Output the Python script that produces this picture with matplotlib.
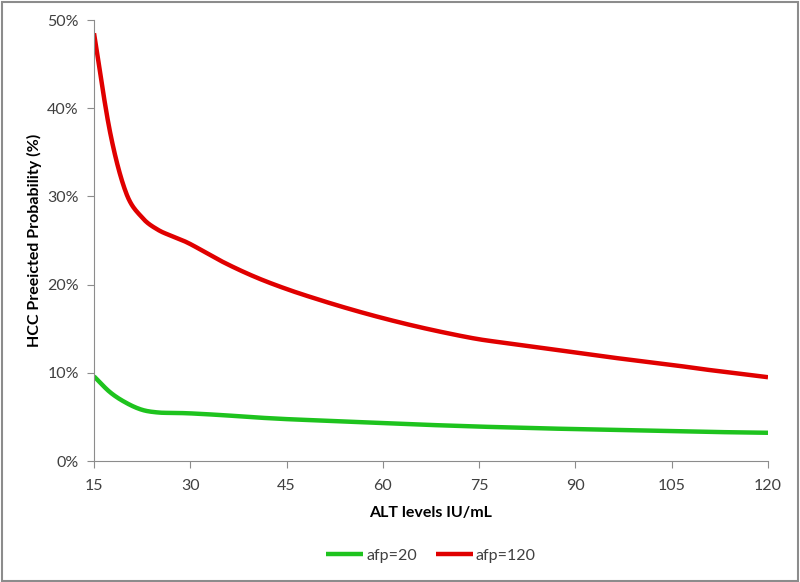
import numpy as np
import matplotlib.pyplot as plt
from matplotlib.ticker import PercentFormatter
from matplotlib.patches import Rectangle

alt = [15, 17.5, 20, 22.5, 25, 27.5, 30, 35, 40, 45, 50, 55, 60, 65, 70, 75, 80, 85, 90, 95, 100,
       105, 110, 115, 120]
afp20 = [9.6, 7.8, 6.6, 5.8, 5.5, 5.45, 5.4, 5.2, 4.95, 4.75, 4.6, 4.45, 4.3, 4.15, 4.02, 3.9, 3.8,
         3.7, 3.62, 3.54, 3.46, 3.38, 3.31, 3.25, 3.2]
afp120 = [48.5, 37.3, 30.4, 27.6, 26.2, 25.4, 24.6, 22.6, 20.9, 19.5, 18.3, 17.2, 16.2, 15.3, 14.5,
          13.8, 13.3, 12.8, 12.3, 11.8, 11.35, 10.9, 10.4, 9.95, 9.5]


def smooth(xs, ys, n=20):
    # catmull-rom through the points, like excel's smoothed line
    xs = np.asarray(xs, float)
    ys = np.asarray(ys, float)
    px = np.concatenate([[2*xs[0]-xs[1]], xs, [2*xs[-1]-xs[-2]]])
    py = np.concatenate([[2*ys[0]-ys[1]], ys, [2*ys[-1]-ys[-2]]])
    outx, outy = [], []
    t = np.linspace(0, 1, n, endpoint=False)
    for i in range(1, len(px)-2):
        for p, out in ((px, outx), (py, outy)):
            p0, p1, p2, p3 = p[i-1], p[i], p[i+1], p[i+2]
            out.extend(0.5*((2*p1) + (-p0+p2)*t + (2*p0-5*p1+4*p2-p3)*t**2 + (-p0+3*p1-3*p2+p3)*t**3))
    outx.append(xs[-1])
    outy.append(ys[-1])
    return np.array(outx), np.array(outy)


plt.rcParams['font.family'] = ['Lato', 'DejaVu Sans']
txt = '#404040'
grey = '#8c8c8c'

fig = plt.figure(figsize=(8, 5.82), dpi=100)
fig.patches.append(Rectangle((0.002, 0.002), 0.995, 0.995, transform=fig.transFigure,
                             fill=False, edgecolor='#8c8c8c', linewidth=1.5))
ax = fig.add_axes([0.1175, 0.2079, 0.8425, 0.7577])

sx, sy = smooth(alt, afp20)
ax.plot(sx, sy, color='#1ec31e', linewidth=3.2, label='afp=20', solid_capstyle='butt')
sx, sy = smooth(alt, afp120)
ax.plot(sx, sy, color='#e00000', linewidth=3.2, label='afp=120', solid_capstyle='butt')

ax.set_xlim(15, 120)
ax.set_ylim(0, 50)
ax.set_xticks(range(15, 121, 15))
ax.set_yticks(range(0, 51, 10))
ax.yaxis.set_major_formatter(PercentFormatter(decimals=0))
for s in ['top', 'right']:
    ax.spines[s].set_visible(False)
for s in ['left', 'bottom']:
    ax.spines[s].set_color(grey)
ax.tick_params(colors=grey, labelcolor=txt, labelsize=11.5, length=5, direction='out', pad=6)
ax.tick_params(axis='x', pad=8)

ax.set_xlabel('ALT levels IU/mL', fontsize=11.5, fontweight='bold', color='black', labelpad=9)
ax.set_ylabel('HCC Preeicted Probability (%)', fontsize=11.5, fontweight='bold', color='black', labelpad=4)

ax.legend(loc='center', bbox_to_anchor=(0.5, -0.215), ncol=2, frameon=False, fontsize=11.5,
          handlelength=2.3, handletextpad=0.2, columnspacing=1.2, labelcolor=txt)

fig.savefig('out.png', dpi=100)
